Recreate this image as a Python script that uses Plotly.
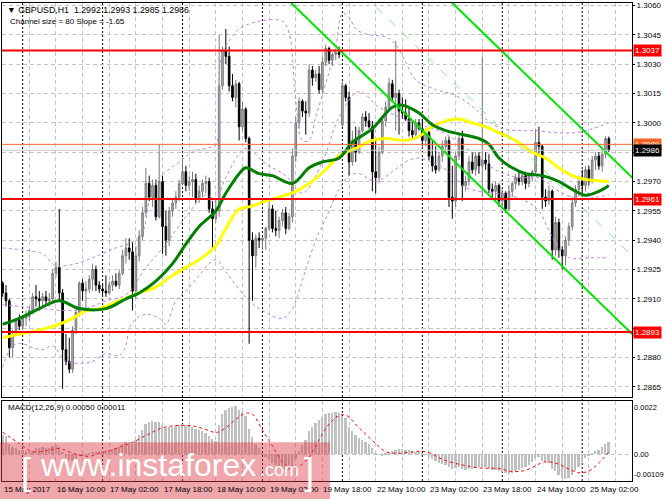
import plotly.graph_objects as go

# GBPUSD H1, 15 May 2017 18:00 .. 25 May 2017 08:00 (bar index 0..182)
opens = [
    1.2918, 1.2913, 1.2909, 1.2885, 1.2892, 1.2899, 1.2896, 1.2900, 1.2901, 1.2904,
    1.2911, 1.2910, 1.2909, 1.2911, 1.2909, 1.2910, 1.2923, 1.2926, 1.2913, 1.2884,
    1.2878, 1.2874, 1.2894, 1.2903, 1.2918, 1.2914, 1.2915, 1.2920, 1.2925, 1.2917,
    1.2915, 1.2914, 1.2913, 1.2917, 1.2919, 1.2917, 1.2923, 1.2932, 1.2936, 1.2934,
    1.2914, 1.2932, 1.2942, 1.2954, 1.2969, 1.2962, 1.2968, 1.2952, 1.2970, 1.2947,
    1.2940, 1.2955, 1.2959, 1.2962, 1.2969, 1.2975, 1.2968, 1.2970, 1.2971, 1.2961,
    1.2965, 1.2969, 1.2970, 1.2956, 1.2951, 1.2955, 1.3019, 1.3037, 1.3034, 1.3019,
    1.3013, 1.3020, 1.2998, 1.3007, 1.2992, 1.2940, 1.2932, 1.2941, 1.2940, 1.2941,
    1.2946, 1.2956, 1.2946, 1.2945, 1.2950, 1.2954, 1.2946, 1.2952, 1.2983, 1.3000,
    1.3011, 1.3006, 1.3005, 1.3027, 1.3023, 1.3025, 1.3017, 1.3031, 1.3038, 1.3032,
    1.3035, 1.3036, 1.2999, 1.3019, 1.3013, 1.2980, 1.2991, 1.2985, 1.2996, 1.3003,
    1.3001, 1.2998, 1.2975, 1.2972, 1.2985, 1.3001, 1.3008, 1.3020, 1.3013, 1.3015,
    1.3006, 1.3005, 1.3002, 1.2996, 1.2994, 1.3000, 1.2997, 1.2991, 1.2995, 1.2983,
    1.2978, 1.2976, 1.2983, 1.2988, 1.2991, 1.2962, 1.2960, 1.2983, 1.2992, 1.2968,
    1.2970, 1.2980, 1.2976, 1.2983, 1.2978, 1.2981, 1.2979, 1.2966, 1.2965, 1.2968,
    1.2960, 1.2964, 1.2956, 1.2965, 1.2969, 1.2972, 1.2970, 1.2973, 1.2969, 1.2973,
    1.2975, 1.2990, 1.2988, 1.2962, 1.2960, 1.2965, 1.2935, 1.2949, 1.2935, 1.2932,
    1.2940, 1.2947, 1.2959, 1.2966, 1.2970, 1.2968, 1.2976, 1.2970, 1.2981, 1.2983,
    1.2978, 1.2984, 1.2992,
]
highs = [
    1.2919, 1.2917, 1.2910, 1.2894, 1.2900, 1.2902, 1.2901, 1.2904, 1.2906, 1.2913,
    1.2917, 1.2914, 1.2913, 1.2914, 1.2913, 1.2925, 1.2929, 1.2956, 1.2915, 1.2892,
    1.2890, 1.2896, 1.2906, 1.2919, 1.2920, 1.2919, 1.2922, 1.2928, 1.2927, 1.2919,
    1.2918, 1.2922, 1.2919, 1.2922, 1.2923, 1.2925, 1.2935, 1.2941, 1.2941, 1.2939,
    1.2937, 1.2945, 1.2957, 1.2977, 1.2973, 1.2971, 1.2971, 1.2989, 1.2973, 1.2955,
    1.2957, 1.2961, 1.2965, 1.2971, 1.2982, 1.2978, 1.2973, 1.2975, 1.2974, 1.2968,
    1.2971, 1.2973, 1.2972, 1.2960, 1.2961, 1.3045, 1.3039, 1.3048, 1.3039, 1.3025,
    1.3022, 1.3021, 1.3011, 1.3008, 1.2993, 1.2944, 1.2943, 1.2944, 1.2942, 1.2947,
    1.2960, 1.2958, 1.2955, 1.2952, 1.2956, 1.2957, 1.2954, 1.2987, 1.3003, 1.3013,
    1.3012, 1.3011, 1.3030, 1.3029, 1.3027, 1.3029, 1.3034, 1.3040, 1.3039, 1.3036,
    1.3038, 1.3039, 1.3021, 1.3020, 1.3016, 1.2996, 1.2998, 1.2998, 1.3005, 1.3006,
    1.3005, 1.3001, 1.2991, 1.2988, 1.3003, 1.3011, 1.3023, 1.3022, 1.3042, 1.3017,
    1.3013, 1.3012, 1.3008, 1.3001, 1.3002, 1.3002, 1.3002, 1.2997, 1.2996, 1.2991,
    1.2988, 1.2985, 1.2991, 1.2993, 1.2993, 1.2978, 1.2985, 1.2994, 1.2996, 1.2973,
    1.2983, 1.2985, 1.2985, 1.2985, 1.3034, 1.2985, 1.2984, 1.2969, 1.2970, 1.2969,
    1.2966, 1.2965, 1.2968, 1.2970, 1.2974, 1.2975, 1.2975, 1.2975, 1.2974, 1.2976,
    1.2997, 1.2998, 1.2989, 1.2966, 1.2968, 1.2966, 1.2952, 1.2951, 1.2937, 1.2942,
    1.2949, 1.2961, 1.2968, 1.2973, 1.2976, 1.2978, 1.2978, 1.2983, 1.2985, 1.2985,
    1.2986, 1.2993, 1.2993,
]
lows = [
    1.2911, 1.2906, 1.2880, 1.2880, 1.2891, 1.2894, 1.2894, 1.2896, 1.2899, 1.2902,
    1.2906, 1.2904, 1.2906, 1.2907, 1.2906, 1.2909, 1.2921, 1.2909, 1.2864, 1.2876,
    1.2872, 1.2872, 1.2892, 1.2901, 1.2909, 1.2905, 1.2913, 1.2914, 1.2914, 1.2913,
    1.2912, 1.2911, 1.2912, 1.2914, 1.2916, 1.2915, 1.2922, 1.2928, 1.2930, 1.2904,
    1.2910, 1.2929, 1.2940, 1.2952, 1.2960, 1.2957, 1.2950, 1.2951, 1.2933, 1.2932,
    1.2937, 1.2952, 1.2956, 1.2960, 1.2968, 1.2965, 1.2965, 1.2962, 1.2959, 1.2959,
    1.2962, 1.2964, 1.2954, 1.2936, 1.2949, 1.2952, 1.3017, 1.3030, 1.3016, 1.3011,
    1.3008, 1.2991, 1.2996, 1.2990, 1.2887, 1.2909, 1.2926, 1.2936, 1.2935, 1.2935,
    1.2945, 1.2944, 1.2942, 1.2941, 1.2947, 1.2943, 1.2945, 1.2949, 1.2980, 1.2997,
    1.3003, 1.2994, 1.3003, 1.3019, 1.3021, 1.3015, 1.3015, 1.3029, 1.3030, 1.3029,
    1.3032, 1.3033, 1.2998, 1.3011, 1.2973, 1.2978, 1.2980, 1.2984, 1.2995, 1.2998,
    1.2997, 1.2965, 1.2964, 1.2969, 1.2984, 1.2998, 1.3007, 1.3011, 1.2996, 1.2994,
    1.3002, 1.3001, 1.2993, 1.2992, 1.2993, 1.2996, 1.2988, 1.2988, 1.2981, 1.2975,
    1.2974, 1.2975, 1.2980, 1.2985, 1.2957, 1.2951, 1.2957, 1.2981, 1.2960, 1.2965,
    1.2968, 1.2974, 1.2973, 1.2974, 1.2962, 1.2976, 1.2964, 1.2962, 1.2960, 1.2957,
    1.2957, 1.2954, 1.2955, 1.2962, 1.2966, 1.2968, 1.2968, 1.2966, 1.2967, 1.2970,
    1.2974, 1.2983, 1.2956, 1.2957, 1.2958, 1.2930, 1.2932, 1.2931, 1.2925, 1.2927,
    1.2937, 1.2945, 1.2957, 1.2962, 1.2965, 1.2965, 1.2968, 1.2969, 1.2976, 1.2976,
    1.2975, 1.2982, 1.2985,
]
closes = [
    1.2913, 1.2909, 1.2885, 1.2892, 1.2899, 1.2896, 1.2900, 1.2901, 1.2904, 1.2911,
    1.2910, 1.2909, 1.2911, 1.2909, 1.2910, 1.2923, 1.2926, 1.2913, 1.2884, 1.2878,
    1.2874, 1.2894, 1.2903, 1.2918, 1.2914, 1.2915, 1.2920, 1.2925, 1.2917, 1.2915,
    1.2914, 1.2913, 1.2917, 1.2919, 1.2917, 1.2923, 1.2932, 1.2936, 1.2934, 1.2914,
    1.2932, 1.2942, 1.2954, 1.2969, 1.2962, 1.2968, 1.2952, 1.2970, 1.2947, 1.2940,
    1.2955, 1.2959, 1.2962, 1.2969, 1.2975, 1.2968, 1.2970, 1.2971, 1.2961, 1.2965,
    1.2969, 1.2970, 1.2956, 1.2951, 1.2955, 1.3019, 1.3037, 1.3034, 1.3019, 1.3013,
    1.3020, 1.2998, 1.3007, 1.2992, 1.2940, 1.2932, 1.2941, 1.2940, 1.2941, 1.2946,
    1.2956, 1.2946, 1.2945, 1.2950, 1.2954, 1.2946, 1.2952, 1.2983, 1.3000, 1.3011,
    1.3006, 1.3005, 1.3027, 1.3023, 1.3025, 1.3017, 1.3031, 1.3038, 1.3032, 1.3035,
    1.3036, 1.3035, 1.3019, 1.3013, 1.2980, 1.2991, 1.2985, 1.2996, 1.3003, 1.3001,
    1.2998, 1.2975, 1.2972, 1.2985, 1.3001, 1.3008, 1.3020, 1.3013, 1.3015, 1.3006,
    1.3005, 1.3002, 1.2996, 1.2994, 1.3000, 1.2997, 1.2991, 1.2995, 1.2983, 1.2978,
    1.2976, 1.2983, 1.2988, 1.2991, 1.2962, 1.2960, 1.2983, 1.2992, 1.2968, 1.2970,
    1.2980, 1.2976, 1.2983, 1.2978, 1.2981, 1.2979, 1.2966, 1.2965, 1.2968, 1.2960,
    1.2964, 1.2956, 1.2965, 1.2969, 1.2972, 1.2970, 1.2973, 1.2969, 1.2973, 1.2975,
    1.2990, 1.2988, 1.2962, 1.2960, 1.2965, 1.2935, 1.2949, 1.2935, 1.2932, 1.2940,
    1.2947, 1.2959, 1.2966, 1.2970, 1.2968, 1.2976, 1.2970, 1.2981, 1.2983, 1.2978,
    1.2984, 1.2992, 1.2986,
]
macd_hist = [
    0.00080, 0.00075, 0.00045, 0.00030, 0.00025, 0.00020, 0.00018, 0.00015, 0.00012, 0.00015,
    0.00025, 0.00028, 0.00030, 0.00028, 0.00025, 0.00035, 0.00040, 0.00030, 0.00010, -0.00010,
    -0.00022, -0.00025, -0.00018, -0.00008, -0.00005, -0.00003, 0.00002, 0.00010, 0.00012, 0.00015,
    0.00016, 0.00017, 0.00020, 0.00022, 0.00025, 0.00032, 0.00042, 0.00050, 0.00052, 0.00045,
    0.00060, 0.00080, 0.00100, 0.00125, 0.00135, 0.00138, 0.00132, 0.00135, 0.00120, 0.00108,
    0.00112, 0.00115, 0.00118, 0.00122, 0.00125, 0.00120, 0.00118, 0.00115, 0.00105, 0.00100,
    0.00095, 0.00090, 0.00078, 0.00062, 0.00055, 0.00120, 0.00165, 0.00182, 0.00190, 0.00195,
    0.00200, 0.00185, 0.00175, 0.00160, 0.00105, 0.00070, 0.00045, 0.00025, 0.00005, -0.00010,
    -0.00020, -0.00035, -0.00045, -0.00052, -0.00058, -0.00062, -0.00065, -0.00050, -0.00020, 0.00015,
    0.00040, 0.00060, 0.00095, 0.00115, 0.00130, 0.00140, 0.00155, 0.00165, 0.00170, 0.00172,
    0.00173, 0.00172, 0.00160, 0.00150, 0.00115, 0.00095, 0.00080, 0.00068, 0.00060, 0.00052,
    0.00045, 0.00025, 0.00008, -0.00002, -0.00003, 0.00002, 0.00010, 0.00015, 0.00018, 0.00022,
    0.00022, 0.00020, 0.00018, 0.00015, 0.00012, 0.00010, 0.00005, -0.00002, -0.00010, -0.00020,
    -0.00028, -0.00035, -0.00040, -0.00042, -0.00050, -0.00058, -0.00055, -0.00050, -0.00058, -0.00062,
    -0.00060, -0.00058, -0.00055, -0.00052, -0.00050, -0.00052, -0.00058, -0.00062, -0.00065, -0.00070,
    -0.00072, -0.00078, -0.00080, -0.00075, -0.00068, -0.00062, -0.00055, -0.00050, -0.00042, -0.00030,
    -0.00015, -0.00010, -0.00025, -0.00032, -0.00035, -0.00060, -0.00068, -0.00085, -0.00098, -0.00100,
    -0.00095, -0.00085, -0.00070, -0.00050, -0.00032, -0.00015, -0.00005, 0.00005, 0.00015, 0.00020,
    0.00030, 0.00042, 0.00050,
]
assert len(opens) == len(highs) == len(lows) == len(closes) == len(macd_hist) == 183

# MACD signal line, read at sample bars
signal_bars = [0, 5, 9, 13, 17, 20, 23, 26, 29, 32, 36, 39, 44, 48, 53, 58, 62, 64, 67, 70,
               73, 75, 78, 81, 84, 87, 89, 92, 95, 98, 101, 103, 107, 112, 115, 119, 125, 128,
               132, 137, 143, 149, 153, 157, 163, 167, 170, 173, 176, 179, 182]
signal_vals = [0.00092, 0.00045, 0.00012, 0.00015, 0.00025, 0.00010, -0.00003, -0.00008,
               0.00005, 0.00015, 0.00035, 0.00050, 0.00085, 0.00110, 0.00120, 0.00115, 0.00098,
               0.00090, 0.00110, 0.00145, 0.00170, 0.00165, 0.00100, 0.00035, -0.00030, -0.00060,
               -0.00050, -0.00010, 0.00060, 0.00125, 0.00160, 0.00162, 0.00110, 0.00045, 0.00012,
               0.00005, 0.00013, 0.00008, -0.00020, -0.00040, -0.00055, -0.00058, -0.00070,
               -0.00065, -0.00030, -0.00040, -0.00060, -0.00075, -0.00068, -0.00035, 0.00011]

# moving averages, read at sample bars
green_bars = [0, 5, 11, 17, 23, 31, 37, 41, 46, 51, 55, 59, 64, 67, 71, 73, 77, 81, 87, 92, 96,
              101, 105, 111, 117, 120, 125, 129, 133, 138, 143, 146, 149, 153, 157, 162, 167,
              171, 175, 179, 182]
green_ma = [1.2897, 1.2900, 1.2905, 1.2909, 1.2905, 1.2905, 1.2910, 1.2913, 1.2919, 1.2928,
            1.2938, 1.2947, 1.2955, 1.2964, 1.2974, 1.2977, 1.2974, 1.2973, 1.2969, 1.2977,
            1.2980, 1.2982, 1.2990, 1.2997, 1.3008, 1.3009, 1.3005, 1.2999, 1.2996, 1.2994,
            1.2992, 1.2989, 1.2982, 1.2977, 1.2974, 1.2973, 1.2970, 1.2966, 1.2963, 1.2965,
            1.2968]
yellow_bars = [0, 5, 11, 17, 21, 25, 29, 35, 41, 46, 51, 55, 59, 64, 67, 71, 74, 79, 85, 88, 92,
               97, 101, 106, 111, 115, 121, 125, 128, 133, 137, 141, 145, 149, 154, 159, 163,
               167, 171, 175, 182]
yellow_ma = [1.2890, 1.2892, 1.2894, 1.2897, 1.2900, 1.2904, 1.2905, 1.2909, 1.2913, 1.2916,
             1.2922, 1.2926, 1.2930, 1.2937, 1.2946, 1.2956, 1.2957, 1.2960, 1.2963, 1.2965,
             1.2969, 1.2976, 1.2983, 1.2987, 1.2991, 1.2992, 1.2991, 1.2993, 1.2997, 1.3001,
             1.3002, 1.3000, 1.2998, 1.2995, 1.2991, 1.2985, 1.2982, 1.2977, 1.2973, 1.2971,
             1.2970]

# Bollinger bands (20)
bb_up_bars = [0, 6, 12, 16, 22, 27, 34, 39, 42, 44, 46, 49, 53, 57, 61, 64, 65, 66, 68, 71, 77,
              84, 86, 88, 90, 92, 94, 97, 100, 102, 104, 106, 110, 115, 118, 121, 124, 130, 136,
              142, 145, 150, 156, 160, 166, 172, 177, 182]
bb_up = [1.2936, 1.2935, 1.2933, 1.2927, 1.2928, 1.2931, 1.2936, 1.2939, 1.2944, 1.2960, 1.2970,
         1.2975, 1.2980, 1.2985, 1.2987, 1.2989, 1.3026, 1.3036, 1.3042, 1.3048, 1.3052, 1.3052,
         1.3046, 1.3011, 1.2991, 1.2991, 1.3003, 1.3020, 1.3039, 1.3056, 1.3054, 1.3048, 1.3045,
         1.3044, 1.3040, 1.3031, 1.3022, 1.3017, 1.3014, 1.3007, 1.3002, 1.2997, 1.2996, 1.2996,
         1.2995, 1.2995, 1.2997, 1.3000]
bb_mid_bars = [0, 6, 12, 19, 25, 31, 37, 43, 49, 55, 61, 64, 67, 73, 79, 85, 90, 96, 101, 107,
               113, 119, 125, 131, 137, 143, 149, 155, 161, 167, 173, 178, 182]
bb_mid = [1.2907, 1.2906, 1.2905, 1.2904, 1.2905, 1.2909, 1.2912, 1.2926, 1.2938, 1.2952,
          1.2963, 1.2961, 1.2972, 1.2987, 1.2979, 1.2973, 1.2964, 1.2980, 1.3003, 1.3016,
          1.3008, 1.3003, 1.2999, 1.2996, 1.2990, 1.2982, 1.2975, 1.2972, 1.2972, 1.2965,
          1.2961, 1.2962, 1.2963]
bb_low_bars = [0, 3, 6, 9, 12, 15, 19, 23, 27, 31, 35, 37, 38, 41, 44, 47, 49, 52, 55, 59, 62,
               64, 67, 70, 74, 79, 84, 87, 89, 91, 94, 97, 101, 104, 107, 112, 117, 121, 125,
               130, 134, 139, 143, 147, 152, 157, 161, 164, 167, 170, 176, 182]
bb_low = [1.2875, 1.2886, 1.2887, 1.2885, 1.2884, 1.2886, 1.2878, 1.2877, 1.2878, 1.2882,
          1.2881, 1.2886, 1.2895, 1.2901, 1.2902, 1.2900, 1.2897, 1.2909, 1.2914, 1.2922,
          1.2928, 1.2930, 1.2924, 1.2917, 1.2909, 1.2903, 1.2900, 1.2905, 1.2914, 1.2925,
          1.2940, 1.2951, 1.2966, 1.2973, 1.2974, 1.2970, 1.2975, 1.2980, 1.2982, 1.2979,
          1.2975, 1.2967, 1.2965, 1.2964, 1.2963, 1.2960, 1.2955, 1.2945, 1.2936, 1.2931,
          1.2931, 1.2931]

# regression channel (size 80, slope -1.65)
channel_bars = [85, 189]
channel_low = [1.3064, 1.2892]
channel_mid = [1.3104, 1.2932]
channel_high = [1.3144, 1.2972]

levels = [1.3037, 1.2961, 1.2893]
ask = 1.2989

price_ticks = [1.2865, 1.2880, 1.2895, 1.2910, 1.2925, 1.2940, 1.2955, 1.2970,
               1.2985, 1.3000, 1.3015, 1.3030, 1.3045, 1.3060]
hidden_ticks = [1.2895, 1.2985]   # covered by the price boxes
macd_max, macd_min = 0.0022, -0.00109

day_starts = [6, 30, 54, 78, 102, 126, 150, 174]
label_bars = [0, 16, 32, 48, 64, 80, 96, 112, 128, 144, 160, 176]
label_text = ["15 May 2017", "16 May 10:00", "17 May 02:00", "17 May 18:00", "18 May 10:00",
              "19 May 02:00", "19 May 18:00", "22 May 10:00", "23 May 02:00", "23 May 18:00",
              "24 May 10:00", "25 May 02:00"]

bars = list(range(len(closes)))
FONT = "Liberation Sans, Arial, DejaVu Sans, sans-serif"
GRID = "#c4c4c4"

fig = go.Figure()
fig.add_trace(go.Candlestick(
    x=bars, open=opens, high=highs, low=lows, close=closes,
    increasing=dict(line=dict(color="#7a7a7a", width=1), fillcolor="#b4b4b4"),
    decreasing=dict(line=dict(color="#000000", width=1), fillcolor="#000000"),
    whiskerwidth=0, xaxis="x", yaxis="y", showlegend=False, hoverinfo="skip",
))

band_style = dict(color="#c07ee8", width=1, dash="dot", shape="spline")
for bx, by in [(bb_up_bars, bb_up), (bb_mid_bars, bb_mid), (bb_low_bars, bb_low)]:
    fig.add_trace(go.Scatter(x=bx, y=by, mode="lines", line=band_style,
                             xaxis="x", yaxis="y", showlegend=False, hoverinfo="skip"))

fig.add_trace(go.Scatter(x=yellow_bars, y=yellow_ma, mode="lines",
                         line=dict(color="#ffff00", width=3, shape="spline"),
                         xaxis="x", yaxis="y", showlegend=False, hoverinfo="skip"))
fig.add_trace(go.Scatter(x=green_bars, y=green_ma, mode="lines",
                         line=dict(color="#007f00", width=3, shape="spline"),
                         xaxis="x", yaxis="y", showlegend=False, hoverinfo="skip"))

for cy, dash, col, w in [(channel_low, "solid", "#00e600", 2), (channel_high, "solid", "#00e600", 2),
                         (channel_mid, "dash", "#80f080", 1)]:
    fig.add_trace(go.Scatter(x=channel_bars, y=cy, mode="lines",
                             line=dict(color=col, width=w, dash=dash),
                             xaxis="x", yaxis="y", showlegend=False, hoverinfo="skip"))

# MACD panel
fig.add_trace(go.Bar(x=bars, y=macd_hist, width=0.55, marker=dict(color="#c0c0c0", line_width=0),
                     xaxis="x2", yaxis="y2", showlegend=False, hoverinfo="skip"))
fig.add_trace(go.Scatter(x=signal_bars, y=signal_vals, mode="lines",
                         line=dict(color="#ff0000", width=1, dash="dot", shape="spline"),
                         xaxis="x2", yaxis="y2", showlegend=False, hoverinfo="skip"))

shapes = []
for d in day_starts:
    shapes.append(dict(type="line", xref="x", yref="paper", x0=d, x1=d, y0=0, y1=1,
                       line=dict(color="#000000", width=1, dash="2px,2px"), layer="below"))
for lvl in levels:
    shapes.append(dict(type="line", xref="paper", yref="y", x0=0, x1=1, y0=lvl, y1=lvl,
                       line=dict(color="#ff0000", width=2)))
shapes.append(dict(type="line", xref="paper", yref="y", x0=0, x1=1, y0=ask, y1=ask,
                   line=dict(color="#ff6a30", width=1)))
shapes.append(dict(type="line", xref="paper", yref="y", x0=0, x1=1, y0=closes[-1], y1=closes[-1],
                   line=dict(color="#c8c8c8", width=1)))
# watermark band
shapes.append(dict(type="rect", xref="paper", yref="paper", x0=-0.004, x1=0.5206,
                   y0=-0.04, y1=0.0813, fillcolor="rgba(220,60,70,0.45)", line_width=0,
                   layer="above"))

ann = []
small = dict(family=FONT, size=8, color="#000000")
for b, t in zip(label_bars, label_text):
    ann.append(dict(x=b, xref="x2", y=0, yref="paper", yanchor="top", xanchor="left",
                    xshift=-1, yshift=-2, text=t, showarrow=False, font=small))
ann.append(dict(x=0.0048, y=0.9854, xref="paper", yref="paper", xanchor="left", yanchor="middle",
                showarrow=False, font=dict(family=FONT, size=8.8, color="#000000"),
                text=f"▼ GBPUSD,H1  {opens[-1]:.4f} {highs[-1]:.4f} {lows[-1]:.4f} {closes[-1]:.4f}"))
ann.append(dict(x=0.0095, y=0.9604, xref="paper", yref="paper", xanchor="left", yanchor="middle",
                showarrow=False, font=small, text="Channel size = 80 Slope = -1.65"))
ann.append(dict(x=0.0063, y=0.1542, xref="paper", yref="paper", xanchor="left", yanchor="middle",
                showarrow=False, font=small,
                text=f"MACD(12,26,9) {macd_hist[-1]:.5f} {signal_vals[-1]:.5f}"))
box_font = dict(family=FONT, size=8, color="#ffffff")
for lvl in levels:
    ann.append(dict(x=1, xref="paper", y=lvl, yref="y", xanchor="left", yanchor="middle",
                    xshift=1, showarrow=False, bgcolor="#ff0000", borderpad=1,
                    font=box_font, text=f"{lvl:.4f}"))
ann.append(dict(x=1, xref="paper", y=ask, yref="y", xanchor="left", yanchor="middle",
                xshift=1, showarrow=False, bgcolor="#f26522", borderpad=1,
                font=box_font, text=f"{ask:.4f}"))
ann.append(dict(x=1, xref="paper", y=closes[-1], yref="y", xanchor="left", yanchor="middle",
                xshift=1, showarrow=False, bgcolor="#000000", borderpad=1,
                font=box_font, text=f"{closes[-1]:.4f}"))
for v, anchor, txt in [(macd_max, "top", f"{macd_max:.4f}"), (0, "middle", "0.00"),
                       (macd_min, "bottom", f"{macd_min:.5f}")]:
    ann.append(dict(x=1, xref="paper", y=v, yref="y2", xanchor="left", yanchor=anchor,
                    xshift=0, showarrow=False, font=dict(family=FONT, size=7.5, color="#000000"),
                    text=txt))
# watermark text
wm = dict(family=FONT, color="#ffffff")
ann.append(dict(x=0.4063, y=-0.008, xref="paper", yref="paper", xanchor="right", yanchor="bottom",
                showarrow=False, text="www.instaforex", font=dict(size=32, **wm)))
ann.append(dict(x=0.4063, y=-0.002, xref="paper", yref="paper", xanchor="left", yanchor="bottom",
                showarrow=False, text=".com", font=dict(size=18, **wm)))
ann.append(dict(x=0.0381, y=0.02, xref="paper", yref="paper", xanchor="center", yanchor="middle",
                showarrow=False, text="[", font=dict(size=36, **wm)))
ann.append(dict(x=0.487, y=0.02, xref="paper", yref="paper", xanchor="center", yanchor="middle",
                showarrow=False, text="]", font=dict(size=36, **wm)))

xcommon = dict(range=[-0.2, 188.95], tickvals=list(range(0, 189, 8)), showticklabels=False,
               showgrid=True, gridcolor=GRID, griddash="4px,3px", zeroline=False,
               showline=True, linecolor="#000000", mirror=True, ticks="")

fig.update_layout(
    width=665, height=499,
    margin=dict(l=2, r=33, t=1, b=18),
    paper_bgcolor="white", plot_bgcolor="white",
    font=dict(family=FONT, size=8, color="#000000"),
    showlegend=False, bargap=0,
    xaxis=dict(domain=[0, 1], anchor="y", rangeslider=dict(visible=False), **xcommon),
    xaxis2=dict(domain=[0, 1], anchor="y2", matches="x", **xcommon),
    yaxis=dict(domain=[0.175, 1], anchor="x", side="right", range=[1.28596, 1.30613],
               tickvals=price_ticks,
               ticktext=["" if v in hidden_ticks else f"{v:.4f}" for v in price_ticks],
               showgrid=True, gridcolor=GRID, griddash="4px,3px", zeroline=False,
               showline=True, linecolor="#000000", mirror=True,
               ticks="outside", ticklen=2, tickcolor="#000000", ticklabeloverflow="allow",
               tickfont=dict(family=FONT, size=8)),
    yaxis2=dict(domain=[0, 0.1673], anchor="x2", side="right", range=[macd_min, macd_max],
                tickvals=[0], showticklabels=False, showgrid=True, gridcolor=GRID,
                griddash="4px,3px", zeroline=False, showline=True, linecolor="#000000",
                mirror=True),
    shapes=shapes,
    annotations=ann,
)

# the page body's default margin would push the 665 px figure out of the window
fig.write_html("out.html", config={"displayModeBar": False},
               post_script="document.body.style.margin='0';"
                           "document.body.style.overflow='hidden';")
